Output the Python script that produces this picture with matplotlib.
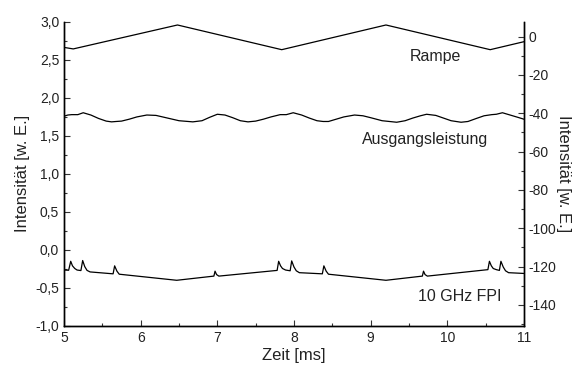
import matplotlib
matplotlib.use("Agg")
import matplotlib.pyplot as plt
from matplotlib.ticker import MultipleLocator, FuncFormatter

plt.rcParams['font.family'] = ['Liberation Sans', 'DejaVu Sans']
plt.rcParams['axes.unicode_minus'] = False

# --- ramp signal (triangle) ---
ramp_t = [5.0, 5.12, 6.48, 7.84, 9.2, 10.56, 11.0]
ramp_v = [2.665, 2.645, 2.96, 2.635, 2.96, 2.635, 2.74]

# --- laser output power ---
out_t = [5.00, 5.05, 5.10, 5.18, 5.25, 5.35, 5.45, 5.55, 5.62, 5.68, 5.75, 5.85,
         5.95, 6.08, 6.20, 6.35, 6.50, 6.68, 6.80, 6.90, 7.00, 7.10, 7.20, 7.30,
         7.40, 7.50, 7.60, 7.70, 7.82, 7.90, 7.99, 8.10, 8.20, 8.30, 8.38, 8.45,
         8.55, 8.65, 8.79, 8.90, 9.00, 9.15, 9.34, 9.45, 9.55, 9.65, 9.73, 9.85,
         9.95, 10.05, 10.18, 10.27, 10.38, 10.48, 10.58, 10.64, 10.72, 10.82, 10.92, 11.0]
out_v = [1.76, 1.775, 1.78, 1.78, 1.805, 1.775, 1.73, 1.695, 1.685, 1.69, 1.695, 1.72,
         1.75, 1.775, 1.77, 1.735, 1.70, 1.685, 1.70, 1.745, 1.785, 1.775, 1.74, 1.70,
         1.685, 1.695, 1.72, 1.75, 1.78, 1.78, 1.805, 1.775, 1.735, 1.70, 1.69, 1.69,
         1.72, 1.75, 1.775, 1.765, 1.74, 1.70, 1.68, 1.70, 1.735, 1.765, 1.785, 1.77,
         1.735, 1.70, 1.68, 1.69, 1.73, 1.765, 1.78, 1.785, 1.805, 1.775, 1.745, 1.72]

# --- 10 GHz Fabry-Perot transmission ---
fpi_t = [5.00, 5.06, 5.087, 5.11, 5.14, 5.17, 5.22, 5.243, 5.27, 5.30, 5.34,
         5.64, 5.66, 5.69, 5.72, 6.47,
         6.955, 6.97, 6.99, 7.02, 7.78, 7.80, 7.825, 7.85, 7.89, 7.95, 7.97, 8.0, 8.03, 8.07,
         8.37, 8.39, 8.42, 8.45, 9.20,
         9.675, 9.69, 9.71, 9.74, 10.53, 10.55, 10.575, 10.60, 10.64, 10.68, 10.70, 10.73,
         10.76, 10.80, 11.0]
fpi_v = [-0.265, -0.268, -0.15, -0.21, -0.245, -0.265, -0.272, -0.14, -0.22, -0.27, -0.29,
         -0.315, -0.21, -0.28, -0.32, -0.40,
         -0.345, -0.28, -0.325, -0.345, -0.27, -0.15, -0.21, -0.245, -0.265, -0.275, -0.145,
         -0.225, -0.275, -0.30,
         -0.315, -0.21, -0.28, -0.32, -0.40,
         -0.345, -0.28, -0.325, -0.345, -0.26, -0.15, -0.21, -0.245, -0.26, -0.27, -0.15,
         -0.225, -0.275, -0.30, -0.31]

left_ticks = [-1.0, -0.5, 0.0, 0.5, 1.0, 1.5, 2.0, 2.5, 3.0]
right_ticks = [0, -20, -40, -60, -80, -100, -120, -140]
x_ticks = [5, 6, 7, 8, 9, 10, 11]

fig = plt.figure(figsize=(5.77, 3.72), dpi=100)
ax = fig.add_axes([0.111, 0.124, 0.797, 0.817])

for t, v in [(ramp_t, ramp_v), (out_t, out_v), (fpi_t, fpi_v)]:
    ax.plot(t, v, color='black', lw=0.9)

ax.set_xlim(5, 11)
ax.set_ylim(-1, 3)
ax.set_xticks(x_ticks)
ax.xaxis.set_minor_locator(MultipleLocator(0.5))
ax.set_yticks(left_ticks)
ax.yaxis.set_minor_locator(MultipleLocator(0.25))
ax.yaxis.set_major_formatter(FuncFormatter(lambda v, p: f"{v:.1f}".replace('.', ',')))
ax.spines['top'].set_visible(False)
ax.tick_params(which='both', direction='in', labelsize=10, width=0.8, color='#333333',
               labelcolor='#222222')
ax.tick_params(which='major', length=4)
ax.tick_params(which='minor', length=2.5)
ax.set_xlabel('Zeit [ms]', fontsize=12, labelpad=2, color='#222222')
ax.set_ylabel('Intensität [w. E.]', fontsize=12, labelpad=4, color='#222222')

# secondary scale on the right
ax2 = ax.twinx()
ax2.set_ylim(-151, 7.7)
ax2.set_yticks(right_ticks)
ax2.yaxis.set_minor_locator(MultipleLocator(10))
ax2.spines['top'].set_visible(False)
ax2.tick_params(which='both', direction='in', labelsize=10, width=0.8, color='#333333',
                labelcolor='#222222')
ax2.tick_params(which='major', length=4)
ax2.tick_params(which='minor', length=2.5)
ax2.set_ylabel('Intensität [w. E.]', fontsize=12, rotation=270, labelpad=10, color='#222222')

for s in ['left', 'right', 'bottom']:
    ax.spines[s].set_linewidth(1.0)
    ax2.spines[s].set_linewidth(1.0)

ax.text(9.84, 2.54, 'Rampe', fontsize=11.5, ha='center', va='center', color='#222222')
ax.text(9.71, 1.45, 'Ausgangsleistung', fontsize=11.5, ha='center', va='center', color='#222222')
ax.text(10.16, -0.62, '10 GHz FPI', fontsize=11.5, ha='center', va='center', color='#222222')

fig.savefig('out.png', dpi=100)
